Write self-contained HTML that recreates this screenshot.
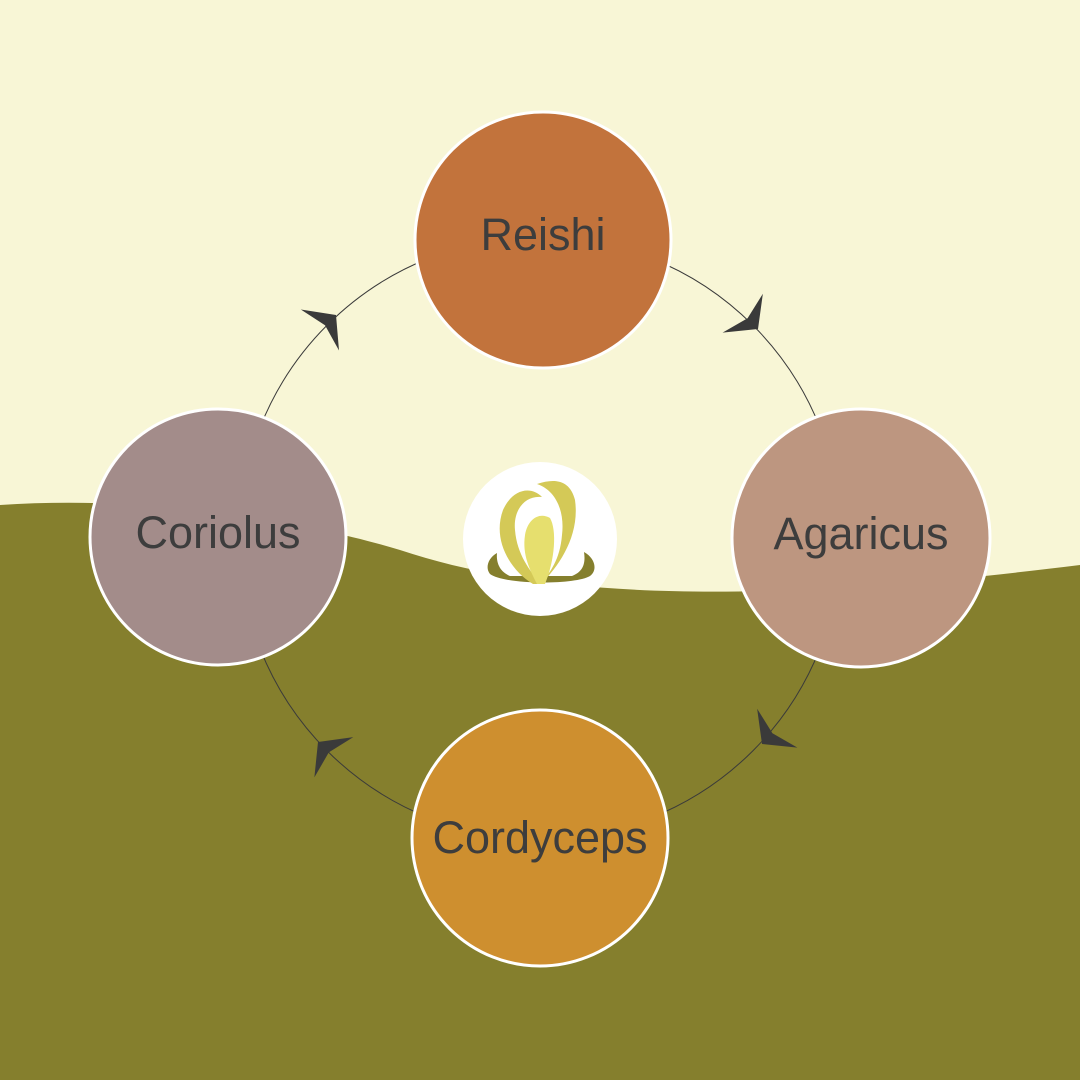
<!DOCTYPE html>
<html><head><meta charset="utf-8"><style>
html,body{margin:0;padding:0;width:1080px;height:1080px;overflow:hidden;background:#f8f6d6}
svg{display:block}
text{font-family:"Liberation Sans",sans-serif;font-size:45px;fill:#3d3d3d;text-anchor:middle}
</style></head><body>
<svg width="1080" height="1080" viewBox="0 0 1080 1080">
<rect width="1080" height="1080" fill="#f8f6d6"/>
<path d="M0,505 C150,495 300,520 400,550 C550,600 760,605 1080,565 L1080,1080 L0,1080 Z" fill="#857f2d"/>
<circle cx="540" cy="538" r="301" fill="none" stroke="#3a3a3a" stroke-width="1"/>
<g fill="#3a3a3a">
<path d="M0,0 L-22,-28 L-15,0 L-22,28 Z" transform="translate(336,315) rotate(-43)"/>
<path d="M0,0 L-22,-28 L-15,0 L-22,28 Z" transform="translate(758,329) rotate(46)"/>
<path d="M0,0 L-22,-28 L-15,0 L-22,28 Z" transform="translate(762,744) rotate(134)"/>
<path d="M0,0 L-22,-28 L-15,0 L-22,28 Z" transform="translate(318,742) rotate(-136)"/>
</g>
<g stroke="#fff" stroke-width="3">
<circle cx="543" cy="240" r="128" fill="#c2733c"/>
<circle cx="861" cy="538" r="129" fill="#bd9680"/>
<circle cx="540" cy="838" r="128" fill="#ce8f2f"/>
<circle cx="218" cy="537" r="128" fill="#a38c8a"/>
</g>
<text x="543" y="250">Reishi</text>
<text x="861" y="549">Agaricus</text>
<text x="540" y="853">Cordyceps</text>
<text x="218" y="548">Coriolus</text>
<circle cx="540" cy="539" r="77" fill="#fff"/>
<path d="M497,553 C488,558 485,568 490,574 C505,585 575,585 590,576 C598,570 595,558 584,552 C586,565 582,572 572,576 L510,576 C500,572 496,563 497,553 Z" fill="#857f2d"/>
<path d="M533,584 C510,570 492,540 503,510 C512,490 530,485 542,497 C525,495 513,510 515,530 C517,555 530,570 540,584 Z" fill="#d4c957"/>
<path d="M541,584 C560,565 580,535 575,500 C570,480 555,478 537,484 C555,490 565,510 562,535 C560,560 550,572 541,584 Z" fill="#d4c957"/>
<path d="M537,584 C530,570 522,555 525,535 C528,518 540,512 550,518 C557,530 555,560 545,584 Z" fill="#e6df6e"/>
</svg>
</body></html>
